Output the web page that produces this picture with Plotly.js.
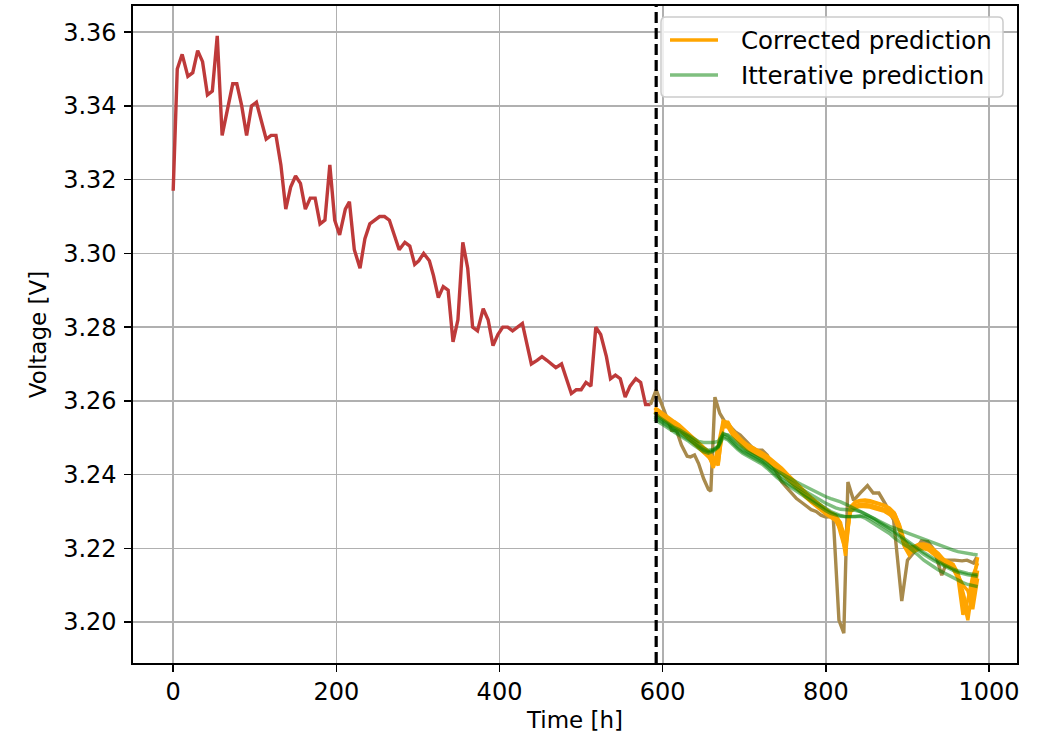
<!DOCTYPE html>
<html>
<head>
<meta charset="utf-8">
<script src="https://cdn.plot.ly/plotly-3.0.1.min.js"></script>
<style>html,body{margin:0;padding:0;background:#fff;}#chart{width:1041px;height:738px;}</style>
</head>
<body>
<div id="chart"></div>
<script>
// ---- measured history (red) ----
const histTime = [0,5,11,18,24,30,36,42,48,54,60,66,73,78,84,90,96,102,108,114,120,126,132,138,144,150,156,162,168,174,180,186,192,198,204,211,216,222,229,235,241,247,253,259,265,271,277,284,290,296,301,307,314,319,325,331,337,343,349,355,361,367,373,380,386,392,398,404,410,416,422,428,434,439,446,452,458,464,469,476,482,488,494,500,506,512,518,524,531,536,542,548,554,560,567,573,579,585];
const histVolt = [3.317,3.350,3.354,3.348,3.349,3.355,3.352,3.343,3.344,3.359,3.332,3.338,3.346,3.346,3.340,3.332,3.340,3.341,3.336,3.331,3.332,3.332,3.324,3.312,3.318,3.321,3.319,3.312,3.315,3.315,3.308,3.309,3.324,3.309,3.305,3.312,3.314,3.301,3.296,3.304,3.308,3.309,3.310,3.310,3.309,3.305,3.301,3.303,3.302,3.297,3.298,3.300,3.298,3.294,3.288,3.291,3.290,3.276,3.282,3.303,3.296,3.280,3.279,3.285,3.282,3.275,3.278,3.280,3.280,3.279,3.280,3.281,3.275,3.270,3.271,3.272,3.271,3.270,3.269,3.270,3.266,3.262,3.263,3.263,3.265,3.264,3.280,3.278,3.272,3.266,3.267,3.266,3.261,3.264,3.266,3.265,3.259,3.259];

// ---- measured test part (brown) ----
const testTime = [585,592,599,605,611,617,623,630,634,639,644,650,656,659,664,670,677,683,689,695,701,709,715,722,728,734,740,746,752,758,764,770,776,782,788,794,800,809,816,822,827,834,842,851,858,865,873,883,893,900,910,917,925,933,942,949,958,967,973,981,985];
const testVolt = [3.259,3.263,3.259,3.2555,3.252,3.252,3.248,3.245,3.2448,3.2453,3.243,3.239,3.236,3.2355,3.261,3.2566,3.254,3.253,3.2516,3.2507,3.2494,3.2475,3.2466,3.2466,3.2453,3.243,3.2405,3.238,3.2365,3.235,3.2335,3.2325,3.2315,3.2305,3.230,3.229,3.2285,3.2286,3.2005,3.197,3.238,3.233,3.235,3.237,3.235,3.235,3.232,3.2277,3.2057,3.2168,3.2195,3.222,3.2218,3.2195,3.2127,3.2168,3.2168,3.2166,3.2168,3.216,3.2176];

// ---- prediction time grid ----
const predTime = [590,596,602,608,614,620,626,632,638,644,650,656,662,668,674,680,686,692,698,704,710,716,722,728,734,740,746,752,758,764,770,776,782,788,794,800,806,812,818,824,830,836,842,848,854,860,866,872,878,884,890,896,902,908,914,920,926,932,938,944,950,956,962,968,974,980,986];

// ---- corrected predictions (orange) ----
const corrected1 = [3.2579,3.2569,3.2559,3.2550,3.2541,3.2532,3.2520,3.2507,3.2494,3.2481,3.2470,3.2463,3.2418,3.2478,3.2545,3.2540,3.2516,3.2501,3.2488,3.2478,3.2471,3.2464,3.2456,3.2447,3.2436,3.2426,3.2414,3.2400,3.2386,3.2372,3.2359,3.2347,3.2335,3.2324,3.2313,3.2303,3.2294,3.2289,3.2270,3.2180,3.2312,3.2326,3.2330,3.2331,3.2329,3.2325,3.2322,3.2317,3.2309,3.2296,3.2262,3.2205,3.2182,3.2200,3.2208,3.2209,3.2205,3.2195,3.2183,3.2168,3.2160,3.2154,3.2125,3.2060,3.2005,3.2095,3.2176];
const corrected2 = [3.2569,3.2559,3.2549,3.2540,3.2531,3.2522,3.2510,3.2497,3.2484,3.2471,3.2462,3.2448,3.2432,3.2430,3.2530,3.2529,3.2506,3.2491,3.2478,3.2468,3.2461,3.2454,3.2446,3.2437,3.2426,3.2416,3.2404,3.2390,3.2376,3.2362,3.2349,3.2337,3.2325,3.2314,3.2303,3.2293,3.2284,3.2275,3.2250,3.2215,3.2299,3.2310,3.2314,3.2314,3.2312,3.2308,3.2305,3.2300,3.2292,3.2280,3.2250,3.2210,3.2190,3.2192,3.2198,3.2199,3.2195,3.2185,3.2173,3.2158,3.2150,3.2144,3.2118,3.2020,3.2060,3.2125,3.2160];
const corrected3 = [3.2582,3.2572,3.2562,3.2553,3.2544,3.2535,3.2523,3.2510,3.2497,3.2484,3.2475,3.2462,3.2445,3.2425,3.2542,3.2542,3.2519,3.2504,3.2491,3.2481,3.2474,3.2467,3.2459,3.2450,3.2439,3.2429,3.2417,3.2403,3.2389,3.2375,3.2362,3.2350,3.2338,3.2327,3.2316,3.2306,3.2297,3.2290,3.2240,3.2195,3.2305,3.2325,3.2329,3.2329,3.2327,3.2323,3.2320,3.2315,3.2307,3.2295,3.2265,3.2222,3.2203,3.2205,3.2211,3.2212,3.2208,3.2198,3.2186,3.2171,3.2163,3.2157,3.2132,3.2085,3.2030,3.2055,3.2140];
const corrected4 = [3.2573,3.2563,3.2553,3.2544,3.2535,3.2526,3.2514,3.2501,3.2488,3.2475,3.2466,3.2452,3.2422,3.2452,3.2536,3.2533,3.2510,3.2495,3.2482,3.2472,3.2465,3.2458,3.2450,3.2441,3.2430,3.2420,3.2408,3.2394,3.2380,3.2366,3.2353,3.2341,3.2329,3.2318,3.2307,3.2297,3.2288,3.2283,3.2265,3.2230,3.2303,3.2316,3.2320,3.2320,3.2318,3.2314,3.2311,3.2306,3.2298,3.2286,3.2256,3.2213,3.2194,3.2196,3.2202,3.2203,3.2199,3.2189,3.2177,3.2162,3.2154,3.2148,3.2126,3.2100,3.2085,3.2035,3.2118];

// ---- iterative predictions (green) ----
const iterative1 = [3.2568,3.2555,3.2546,3.2537,3.2528,3.2522,3.2514,3.2506,3.2498,3.2490,3.2487,3.2486,3.2487,3.2490,3.2510,3.2508,3.2496,3.2485,3.2472,3.2462,3.2454,3.2446,3.2438,3.2428,3.2418,3.2410,3.2402,3.2394,3.2387,3.2380,3.2373,3.2366,3.2359,3.2352,3.2345,3.2340,3.2335,3.2331,3.2326,3.2320,3.2314,3.2308,3.2300,3.2293,3.2286,3.2279,3.2272,3.2266,3.2260,3.2255,3.2250,3.2245,3.2240,3.2234,3.2229,3.2225,3.2220,3.2215,3.2208,3.2203,3.2199,3.2195,3.2191,3.2188,3.2186,3.2184,3.2182];
const iterative2 = [3.2560,3.2552,3.2543,3.2534,3.2525,3.2518,3.2510,3.2502,3.2492,3.2482,3.2472,3.2466,3.2468,3.2478,3.2512,3.2505,3.2490,3.2478,3.2467,3.2460,3.2455,3.2447,3.2440,3.2430,3.2417,3.2405,3.2395,3.2386,3.2377,3.2369,3.2361,3.2353,3.2346,3.2339,3.2330,3.2322,3.2315,3.2310,3.2306,3.2304,3.2304,3.2303,3.2300,3.2294,3.2287,3.2280,3.2270,3.2262,3.2255,3.2246,3.2236,3.2226,3.2218,3.2208,3.2198,3.2189,3.2180,3.2171,3.2164,3.2157,3.2150,3.2144,3.2139,3.2135,3.2132,3.2130,3.2128];
const iterative3 = [3.2555,3.2547,3.2538,3.2529,3.2520,3.2512,3.2504,3.2495,3.2486,3.2476,3.2467,3.2462,3.2466,3.2476,3.2505,3.2498,3.2484,3.2472,3.2462,3.2455,3.2449,3.2441,3.2433,3.2422,3.2408,3.2397,3.2387,3.2378,3.2369,3.2360,3.2351,3.2342,3.2334,3.2326,3.2317,3.2308,3.2300,3.2294,3.2289,3.2286,3.2285,3.2286,3.2288,3.2287,3.2282,3.2275,3.2266,3.2258,3.2250,3.2241,3.2231,3.2221,3.2212,3.2202,3.2193,3.2184,3.2175,3.2167,3.2160,3.2153,3.2146,3.2140,3.2135,3.2131,3.2128,3.2126,3.2124];
const iterative4 = [3.2550,3.2542,3.2533,3.2524,3.2515,3.2507,3.2499,3.2490,3.2480,3.2470,3.2462,3.2458,3.2463,3.2474,3.2500,3.2494,3.2480,3.2468,3.2458,3.2451,3.2444,3.2436,3.2428,3.2417,3.2403,3.2392,3.2382,3.2373,3.2363,3.2354,3.2345,3.2336,3.2328,3.2320,3.2311,3.2302,3.2295,3.2290,3.2287,3.2286,3.2286,3.2287,3.2287,3.2282,3.2274,3.2264,3.2256,3.2248,3.2240,3.2228,3.2218,3.2210,3.2202,3.2192,3.2180,3.2168,3.2160,3.2150,3.2141,3.2134,3.2126,3.2119,3.2113,3.2107,3.2102,3.2099,3.2096];

const splitTime = 592;
const xTicks = [0,200,400,600,800,1000];
const yTicks = [3.20,3.22,3.24,3.26,3.28,3.30,3.32,3.34,3.36];
const yTickText = ['3.20','3.22','3.24','3.26','3.28','3.30','3.32','3.34','3.36'];
const legendLabels = ['Corrected prediction', 'Itterative prediction'];

const FONT = 'DejaVu Sans, sans-serif';
const ORANGE = '#FFA500';
const GREEN = 'rgba(0,128,0,0.5)';
const LW = 3.4;

const traces = [];
traces.push({x: histTime, y: histVolt, mode: 'lines', line: {color: 'rgb(190,58,58)', width: LW}, showlegend: false, hoverinfo: 'skip'});
traces.push({x: testTime, y: testVolt, mode: 'lines', line: {color: 'rgb(168,138,76)', width: LW}, showlegend: false, hoverinfo: 'skip'});
[corrected1, corrected2, corrected3, corrected4].forEach((s) => {
  traces.push({x: predTime, y: s, mode: 'lines', name: legendLabels[0], showlegend: false,
    line: {color: ORANGE, width: LW}, hoverinfo: 'skip'});
});
[iterative1, iterative2, iterative3, iterative4].forEach((s) => {
  traces.push({x: predTime, y: s, mode: 'lines', name: legendLabels[1], showlegend: false,
    line: {color: GREEN, width: LW}, hoverinfo: 'skip'});
});

// plot area in pixels (for the hand-built matplotlib-style legend)
const M = {l: 133, r: 24, t: 6, b: 75};
const PW = 1041 - M.l - M.r, PH = 738 - M.t - M.b;
const px = v => (v - M.l) / PW;
const py = v => 1 - (v - M.t) / PH;

function roundRect(x0, y0, x1, y1, r) {
  const rx = r / PW, ry = r / PH;
  const a = px(x0), b = px(x1), t = py(y0), u = py(y1);
  return `M${a + rx},${t} L${b - rx},${t} Q${b},${t} ${b},${t - ry} L${b},${u + ry} Q${b},${u} ${b - rx},${u} L${a + rx},${u} Q${a},${u} ${a},${u + ry} L${a},${t - ry} Q${a},${t} ${a + rx},${t} Z`;
}

const shapes = [
  {type: 'line', xref: 'x', yref: 'paper', x0: splitTime, x1: splitTime, y0: 0, y1: 1,
    line: {color: '#000', width: 3.2, dash: '11px,5px'}, layer: 'above'},
  {type: 'path', xref: 'paper', yref: 'paper', path: roundRect(661, 17, 1003, 97, 5),
    fillcolor: 'rgba(255,255,255,0.8)', line: {color: '#cccccc', width: 1.5}, layer: 'above'},
  {type: 'line', xref: 'paper', yref: 'paper', x0: px(670), x1: px(718), y0: py(40), y1: py(40),
    line: {color: ORANGE, width: LW}, layer: 'above'},
  {type: 'line', xref: 'paper', yref: 'paper', x0: px(670), x1: px(718), y0: py(75), y1: py(75),
    line: {color: GREEN, width: LW}, layer: 'above'}
];
const annotations = [
  {xref: 'paper', yref: 'paper', x: px(739), y: py(40), xanchor: 'left', yanchor: 'middle', showarrow: false,
    text: legendLabels[0], font: {family: FONT, size: 24.5, color: '#000'}},
  {xref: 'paper', yref: 'paper', x: px(739), y: py(75), xanchor: 'left', yanchor: 'middle', showarrow: false,
    text: legendLabels[1], font: {family: FONT, size: 24.5, color: '#000'}}
];

const layout = {
  width: 1041, height: 738,
  margin: {l: M.l, r: M.r, t: M.t, b: M.b, pad: 0},
  paper_bgcolor: '#ffffff', plot_bgcolor: '#ffffff',
  font: {family: FONT, size: 24, color: '#000'},
  showlegend: false,
  xaxis: {range: [-49.25, 1034.25], tickvals: xTicks, ticks: 'outside', ticklen: 7, tickwidth: 1.5, tickcolor: '#000',
    showgrid: true, gridcolor: '#b0b0b0', gridwidth: 1.6, zeroline: false,
    showline: true, mirror: true, linecolor: '#000', linewidth: 1.6,
    tickfont: {family: FONT, size: 24, color: '#000'},
    title: {text: 'Time [h]', font: {family: FONT, size: 23, color: '#000'}, standoff: 6}},
  yaxis: {range: [3.1889, 3.3671], tickvals: yTicks, ticktext: yTickText, ticks: 'outside', ticklen: 7, tickwidth: 1.5, tickcolor: '#000',
    ticklabelstandoff: 3,
    showgrid: true, gridcolor: '#b0b0b0', gridwidth: 1.6, zeroline: false,
    showline: true, mirror: true, linecolor: '#000', linewidth: 1.6,
    tickfont: {family: FONT, size: 24, color: '#000'},
    title: {text: 'Voltage [V]', font: {family: FONT, size: 23, color: '#000'}, standoff: 10}},
  shapes: shapes,
  annotations: annotations
};

Plotly.newPlot('chart', traces, layout, {displayModeBar: false, staticPlot: true});
</script>
</body>
</html>
